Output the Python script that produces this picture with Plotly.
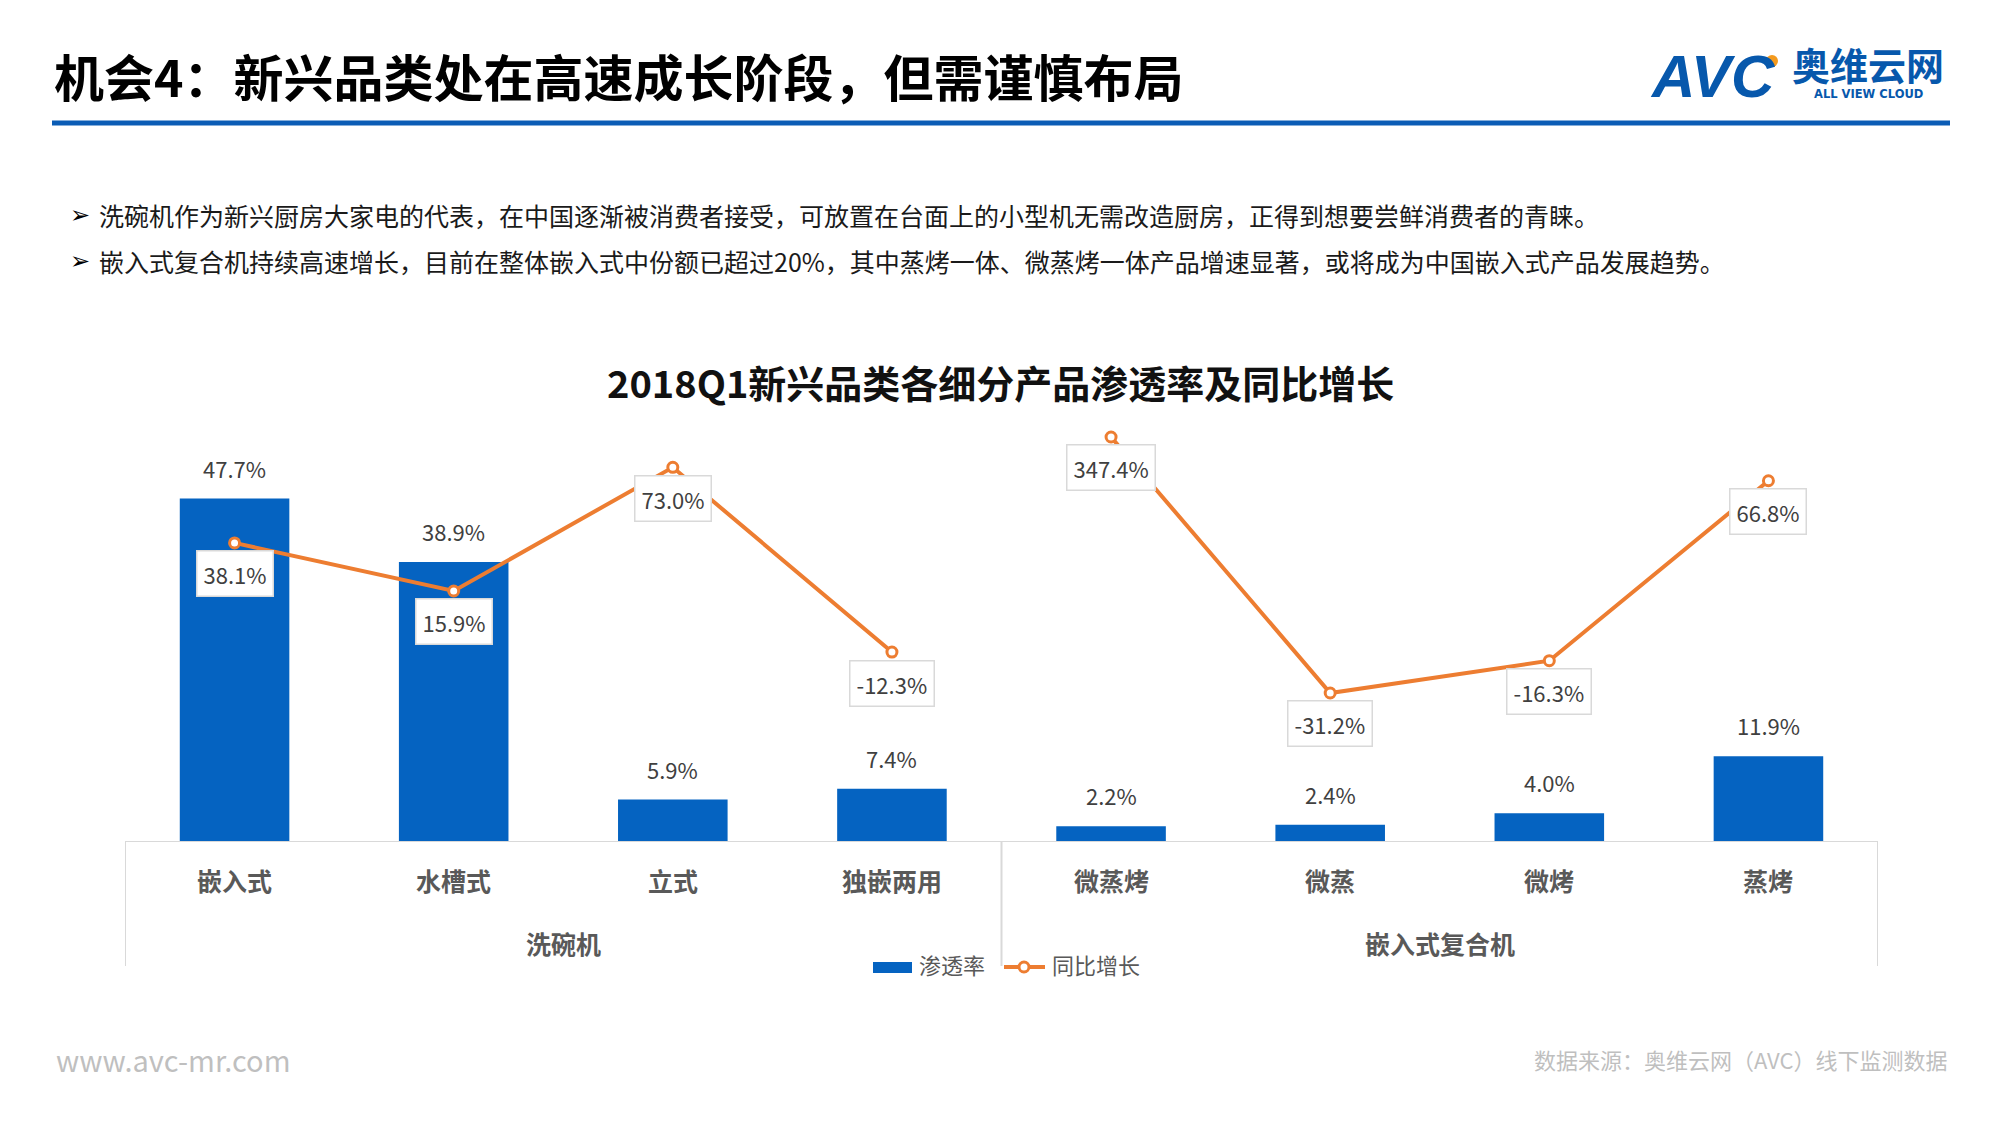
import plotly.graph_objects as go
import numpy as np

# ---------------- data ----------------
categories = ["嵌入式", "水槽式", "立式", "独嵌两用", "微蒸烤", "微蒸", "微烤", "蒸烤"]
groups = ["洗碗机", "嵌入式复合机"]
group_members = [4, 4]
penetration = [0.477, 0.389, 0.059, 0.074, 0.022, 0.024, 0.040, 0.119]
yoy_growth = [0.381, 0.159, 0.730, -0.123, 3.474, -0.312, -0.163, 0.668]

series_names = ["渗透率", "同比增长"]
page_title = "机会4：新兴品类处在高速成长阶段，但需谨慎布局"
chart_title = "2018Q1新兴品类各细分产品渗透率及同比增长"
bullets = [
    "洗碗机作为新兴厨房大家电的代表，在中国逐渐被消费者接受，可放置在台面上的小型机无需改造厨房，正得到想要尝鲜消费者的青睐。",
    "嵌入式复合机持续高速增长，目前在整体嵌入式中份额已超过20%，其中蒸烤一体、微蒸烤一体产品增速显著，或将成为中国嵌入式产品发展趋势。",
]
footer_left = "www.avc-mr.com"
footer_right = "数据来源：奥维云网（AVC）线下监测数据"

# ---------------- style ----------------
W, H = 2000, 1125
FONT = "Noto Sans CJK SC"
BAR_COLOR = "#0563C1"
LINE_COLOR = "#ED7D31"
LOGO_BLUE = "#0758AC"
GRID_GRAY = "#D9D9D9"
Y1_RANGE = [0, 0.5625]
Y2_RANGE = [-1.0, 0.87]
T = 4  # vertical correction for CJK text boxes (px)


def px_x(p):
    return p / W


def px_y(p):
    return 1 - p / H


x_idx = list(range(len(categories)))
# Values beyond the secondary axis maximum are drawn at the axis edge (as in the source chart)
yoy_plot = np.minimum(np.array(yoy_growth), Y2_RANGE[1])

# line is broken between the two product groups
line_x, line_y = [], []
start = 0
for n in group_members:
    line_x += x_idx[start:start + n] + [None]
    line_y += list(yoy_plot[start:start + n]) + [None]
    start += n

fig = go.Figure()
fig.add_trace(go.Bar(
    x=x_idx, y=penetration, name=series_names[0],
    marker=dict(color=BAR_COLOR, line=dict(width=0)),
    width=0.5, yaxis="y", hoverinfo="skip", showlegend=False,
))
fig.add_trace(go.Scatter(
    x=line_x, y=line_y, name=series_names[1], yaxis="y2",
    mode="lines+markers", connectgaps=False,
    line=dict(color=LINE_COLOR, width=4),
    marker=dict(symbol="circle", size=10, color="white", line=dict(color=LINE_COLOR, width=3)),
    cliponaxis=False, hoverinfo="skip", showlegend=False,
))

annotations = []
# bar value labels
for i, v in enumerate(penetration):
    annotations.append(dict(
        x=i, y=v, xref="x", yref="y", text=f"{v*100:.1f}%", showarrow=False,
        yshift=31, font=dict(family=FONT, size=22, color="#404040"),
    ))
# line value labels (boxed)
for i, (v, vp) in enumerate(zip(yoy_growth, yoy_plot)):
    annotations.append(dict(
        x=i, y=vp, xref="x", yref="y2", text=f"{v*100:.1f}%", showarrow=False,
        yshift=-31, font=dict(family=FONT, size=22, color="#404040"),
        bgcolor="white", bordercolor=GRID_GRAY, borderwidth=1.5, borderpad=6,
    ))
# category labels
for i, c in enumerate(categories):
    annotations.append(dict(
        x=i, y=px_y(884 - T), xref="x", yref="paper", text=f"<b>{c}</b>", showarrow=False,
        font=dict(family=FONT, size=25, color="#595959"), yanchor="middle",
    ))
# group labels
start = 0
for g, n in zip(groups, group_members):
    annotations.append(dict(
        x=start + (n - 1) / 2, y=px_y(947 - T), xref="x", yref="paper", text=f"<b>{g}</b>",
        showarrow=False, font=dict(family=FONT, size=25, color="#595959"), yanchor="middle",
    ))
    start += n

# legend (drawn manually to match the wide swatch of the source)
annotations.append(dict(
    x=px_x(917), y=px_y(968 - T), xref="paper", yref="paper", text=series_names[0],
    showarrow=False, xanchor="left", yanchor="middle",
    font=dict(family=FONT, size=22, color="#595959"),
))
annotations.append(dict(
    x=px_x(1050), y=px_y(968 - T), xref="paper", yref="paper", text=series_names[1],
    showarrow=False, xanchor="left", yanchor="middle",
    font=dict(family=FONT, size=22, color="#595959"),
))

# page title
annotations.append(dict(
    x=px_x(52), y=px_y(80 - 5), xref="paper", yref="paper", text=f"<b>{page_title}</b>",
    showarrow=False, xanchor="left", yanchor="middle",
    font=dict(family=FONT, size=50, color="#000000"),
))
# chart title
annotations.append(dict(
    x=px_x(1000), y=px_y(384 - 3), xref="paper", yref="paper", text=f"<b>{chart_title}</b>",
    showarrow=False, xanchor="center", yanchor="middle",
    font=dict(family=FONT, size=38, color="#111111"),
))
# bullets
for k, (b, yy) in enumerate(zip(bullets, [216, 262])):
    annotations.append(dict(
        x=px_x(68), y=px_y(yy - 1), xref="paper", yref="paper", text="➢",
        showarrow=False, xanchor="left", yanchor="middle",
        font=dict(family="DejaVu Sans", size=24, color="#000000"),
    ))
    annotations.append(dict(
        x=px_x(97), y=px_y(yy - 1), xref="paper", yref="paper", text=b,
        showarrow=False, xanchor="left", yanchor="middle",
        font=dict(family=FONT, size=25, color="#1a1a1a"),
    ))
# footer
annotations.append(dict(
    x=px_x(54), y=px_y(1063 - T), xref="paper", yref="paper", text=footer_left,
    showarrow=False, xanchor="left", yanchor="middle",
    font=dict(family=FONT, size=29, color="#BFBFBF"),
))
annotations.append(dict(
    x=px_x(1950), y=px_y(1063 - T), xref="paper", yref="paper", text=footer_right,
    showarrow=False, xanchor="right", yanchor="middle",
    font=dict(family=FONT, size=22, color="#BFBFBF"),
))
# logo
annotations.append(dict(
    x=px_x(1648), y=px_y(76), xref="paper", yref="paper", text="<b><i>AVC</i></b>",
    showarrow=False, xanchor="left", yanchor="middle",
    font=dict(family="Liberation Sans", size=60, color=LOGO_BLUE),
))
annotations.append(dict(
    x=px_x(1790), y=px_y(64), xref="paper", yref="paper", text="<b>奥维云网</b>",
    showarrow=False, xanchor="left", yanchor="middle",
    font=dict(family=FONT, size=38, color=LOGO_BLUE),
))
annotations.append(dict(
    x=px_x(1868), y=px_y(94), xref="paper", yref="paper", text="<b>ALL VIEW CLOUD</b>",
    showarrow=False, xanchor="center", yanchor="middle",
    font=dict(family="DejaVu Sans", size=11.5, color=LOGO_BLUE),
))

shapes = [
    # blue rule under title
    dict(type="line", xref="paper", yref="paper", x0=px_x(52), x1=px_x(1950),
         y0=px_y(123), y1=px_y(123), line=dict(color="#0B5CB5", width=5)),
    # logo orange dot
    dict(type="circle", xref="paper", yref="paper", x0=px_x(1766), x1=px_x(1778),
         y0=px_y(55), y1=px_y(67), fillcolor="#F39A1E", line=dict(width=0)),
    # category axis box
    dict(type="line", xref="x", yref="y", x0=-0.5, x1=len(categories) - 0.5, y0=0, y1=0,
         line=dict(color=GRID_GRAY, width=2)),
    # legend swatches
    dict(type="rect", xref="paper", yref="paper", x0=px_x(873), x1=px_x(912),
         y0=px_y(973), y1=px_y(962), fillcolor=BAR_COLOR, line=dict(width=0)),
    dict(type="line", xref="paper", yref="paper", x0=px_x(1004), x1=px_x(1045),
         y0=px_y(967), y1=px_y(967), line=dict(color=LINE_COLOR, width=4)),
    dict(type="circle", xref="paper", yref="paper", x0=px_x(1019), x1=px_x(1029),
         y0=px_y(972), y1=px_y(962), fillcolor="white", line=dict(color=LINE_COLOR, width=3)),
]
bounds = [-0.5]
acc = -0.5
for n in group_members:
    acc += n
    bounds.append(acc)
for b in bounds:
    shapes.append(dict(type="line", xref="x", yref="paper", x0=b, x1=b,
                       y0=px_y(842), y1=px_y(966), line=dict(color=GRID_GRAY, width=2)))

fig.update_layout(
    width=W, height=H,
    margin=dict(l=0, r=0, t=0, b=0),
    paper_bgcolor="white", plot_bgcolor="white",
    showlegend=False,
    xaxis=dict(domain=[px_x(125), px_x(1878)], range=[-0.5, len(categories) - 0.5],
               visible=False, fixedrange=True),
    yaxis=dict(domain=[px_y(842), px_y(437)], range=Y1_RANGE, visible=False),
    yaxis2=dict(domain=[px_y(842), px_y(437)], range=Y2_RANGE, overlaying="y", visible=False),
    annotations=annotations,
    shapes=shapes,
    bargap=0.5,
)

fig.write_html("out.html", config={"displayModeBar": False},
               post_script="document.body.style.margin='0';")
